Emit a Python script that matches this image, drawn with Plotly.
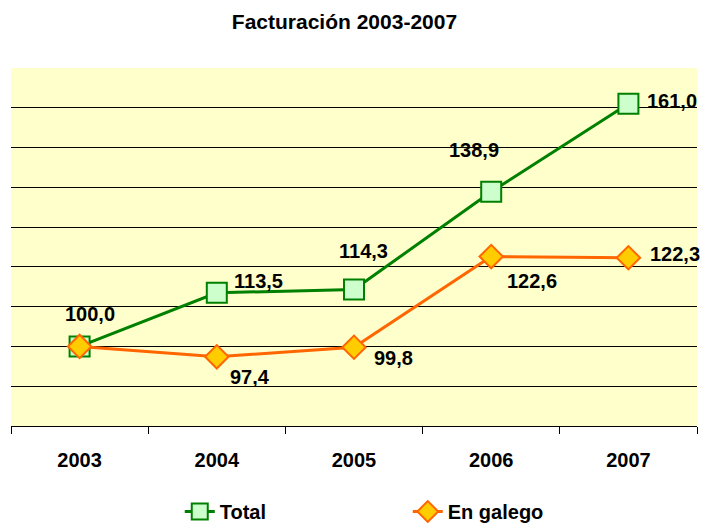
import plotly.graph_objects as go

# ───────────── DATOS ─────────────
anos = ["2003", "2004", "2005", "2006", "2007"]
total = [100.0, 113.5, 114.3, 138.9, 161.0]
galego = [100.0, 97.4, 99.8, 122.6, 122.3]
mostrar_galego = [False, True, True, True, True]  # o 100,0 só aparece unha vez

# desprazamento das etiquetas (px)
off_total = [(10, 32), (42, 12), (9, 39), (-17, 42), (44, 3)]
off_galego = [(0, 0), (33, -20), (39, -11), (41, -24), (47, 4)]

FONT = "Liberation Sans, Arial, sans-serif"
BOLD = dict(family=FONT, size=20, color="black", weight="bold")


def fmt(v):
    return f"{v:.1f}".replace(".", ",")


fig = go.Figure()
fig.add_trace(go.Scatter(
    x=anos, y=total, name="Total", mode="lines+markers",
    line=dict(color="#008000", width=3),
    marker=dict(symbol="square", size=20, color="#CCFFCC",
                line=dict(color="#008000", width=2))))
fig.add_trace(go.Scatter(
    x=anos, y=galego, name="En galego", mode="lines+markers",
    line=dict(color="#FF6600", width=3),
    marker=dict(symbol="diamond", size=18, color="#FFCC00",
                line=dict(color="#FF6600", width=2))))

# nas anotacións o eixo de categorías usa o índice da categoría
notas = []
for i, (v, (dx, dy)) in enumerate(zip(total, off_total)):
    notas.append(dict(x=i, y=v, text=fmt(v), xshift=dx, yshift=dy, showarrow=False, font=BOLD))
for i, (v, m, (dx, dy)) in enumerate(zip(galego, mostrar_galego, off_galego)):
    if m:
        notas.append(dict(x=i, y=v, text=fmt(v), xshift=dx, yshift=dy, showarrow=False, font=BOLD))

fig.update_layout(
    width=703, height=523,
    margin=dict(l=11, r=6, t=68, b=97, autoexpand=False),
    paper_bgcolor="white", plot_bgcolor="#FFFFCC",
    font=BOLD,
    title=dict(text="Facturación 2003-2007", x=0.49, xanchor="center",
               y=0.958, yanchor="middle", font=dict(BOLD, size=21)),
    xaxis=dict(type="category", categoryarray=anos, range=[-0.5, len(anos) - 0.5],
               autorange=False, tickson="boundaries", ticks="outside", ticklen=7,
               tickcolor="black", showline=True, linecolor="black", linewidth=1,
               showgrid=False, tickfont=BOLD, ticklabelstandoff=16, automargin=False),
    yaxis=dict(range=[80, 170], autorange=False, dtick=10, showticklabels=False, ticks="",
               showgrid=True, gridcolor="#000000", gridwidth=1, zeroline=False,
               showline=False, automargin=False),
    showlegend=True,
    legend=dict(orientation="h", x=0.246, xanchor="left", yref="container", y=0.022,
                yanchor="middle", font=BOLD, entrywidth=183, entrywidthmode="pixels",
                bgcolor="rgba(0,0,0,0)"),
    annotations=notas,
)
fig.update_traces(cliponaxis=False)

fig.write_html("out.html", config={"displayModeBar": False},
               post_script="document.body.style.margin='0';")
